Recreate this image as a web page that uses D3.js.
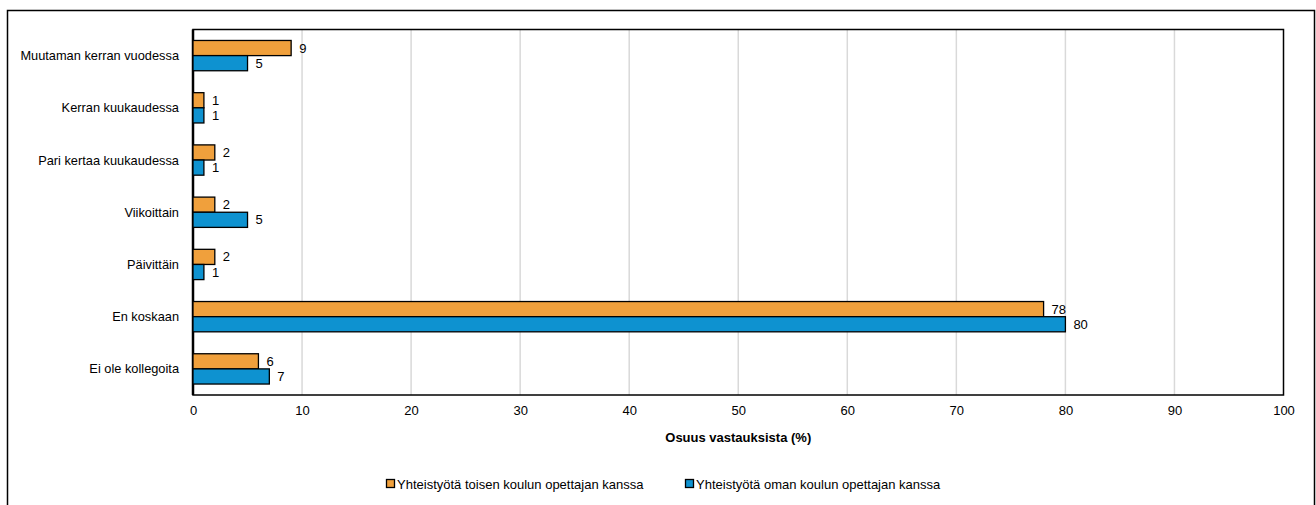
<!DOCTYPE html>
<html><head><meta charset="utf-8">
<script src="https://cdn.jsdelivr.net/npm/d3@7"></script>
<style>body{margin:0;background:#fff}svg{display:block;font-family:"Liberation Sans",Arial,sans-serif}</style>
</head><body><svg id="c" width="1316" height="505"></svg>
<script>
const categories = ["Muutaman kerran vuodessa","Kerran kuukaudessa","Pari kertaa kuukaudessa","Viikoittain","Päivittäin","En koskaan","Ei ole kollegoita"];
const seriesNames = ["Yhteistyötä toisen koulun opettajan kanssa","Yhteistyötä oman koulun opettajan kanssa"];
const toisenValues = [9,1,2,2,2,78,6];
const omanValues = [5,1,1,5,1,80,7];
const xTicks = [0,10,20,30,40,50,60,70,80,90,100];
const axisTitle = "Osuus vastauksista (%)";
const colors = ["#F0A03C","#0E92D0"];

const svg = d3.select("#c");
const m = {l:193, r:1283.5, t:29.5, b:395};
svg.append("rect").attr("x",7.5).attr("y",10.5).attr("width",1307).attr("height",500).attr("fill","none").attr("stroke","#000").attr("stroke-width",1.5);

const x = d3.scaleLinear().domain([0,100]).range([m.l, m.r]);
const y = d3.scaleBand().domain(categories).range([m.t, m.b]).paddingInner(0.42).paddingOuter(0.21);
const y1 = d3.scaleBand().domain([0,1]).range([0, y.bandwidth()]);

svg.append("g").selectAll("line").data(xTicks.slice(1,-1)).join("line")
  .attr("x1",d=>x(d)).attr("x2",d=>x(d)).attr("y1",m.t).attr("y2",m.b)
  .attr("stroke","#d9d9d9").attr("stroke-width",1.5);

svg.append("rect").attr("x",m.l).attr("y",m.t).attr("width",m.r-m.l).attr("height",m.b-m.t)
  .attr("fill","none").attr("stroke","#000").attr("stroke-width",1.5);
svg.append("line").attr("x1",m.l).attr("x2",m.l).attr("y1",m.t).attr("y2",m.b).attr("stroke","#000").attr("stroke-width",2.5);

const data = [toisenValues, omanValues];
data.forEach((vals,si)=>{
  const g = svg.append("g");
  g.selectAll("rect").data(vals).join("rect")
    .attr("x",x(0)).attr("y",(d,i)=>y(categories[i])+y1(si))
    .attr("width",d=>x(d)-x(0)).attr("height",y1.bandwidth())
    .attr("fill",colors[si]).attr("stroke","#000").attr("stroke-width",1.3);
  g.selectAll("text").data(vals).join("text")
    .attr("x",d=>x(d)+8).attr("y",(d,i)=>y(categories[i])+y1(si)+y1.bandwidth()/2)
    .attr("dy","0.35em").attr("font-size",13).attr("fill","#000").text(d=>d);
});

svg.append("g").selectAll("text").data(categories).join("text")
  .attr("x",179).attr("y",d=>y(d)+y.bandwidth()/2).attr("dy","0.35em")
  .attr("text-anchor","end").attr("font-size",12.8).text(d=>d);

const xa = svg.append("g").attr("transform",`translate(0,${m.b})`)
  .call(d3.axisBottom(x).tickValues(xTicks).tickSize(0).tickPadding(11));
xa.select(".domain").remove();
xa.selectAll("text").attr("font-size",13).attr("font-family","Liberation Sans, Arial, sans-serif").attr("fill","#000");

svg.append("text").attr("x",(m.l+m.r)/2).attr("y",442).attr("text-anchor","middle")
  .attr("font-size",13).attr("font-weight","bold").text(axisTitle);

const leg = [{x:386},{x:685}];
seriesNames.forEach((n,i)=>{
  svg.append("rect").attr("x",leg[i].x+0.5).attr("y",479.5).attr("width",8).attr("height",8)
    .attr("fill",colors[i]).attr("stroke","#000").attr("stroke-width",1.3);
  svg.append("text").attr("x",leg[i].x+11).attr("y",484).attr("dy","0.35em").attr("font-size",13).text(n);
});
</script></body></html>
